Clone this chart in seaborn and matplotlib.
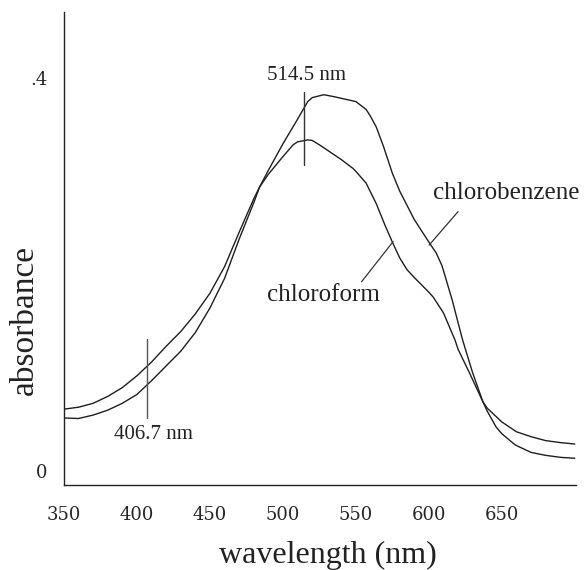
#!/usr/bin/env python3

# Absorbance spectra of the dye in two solvents.

import matplotlib

matplotlib.use("Agg")
import matplotlib.pylab as plt
import pandas
import seaborn as sns

# chloroform spectrum (nm, absorbance)
chloroform_nm = [350, 360, 370, 380, 390, 400, 410, 420, 430, 440, 450, 460, 470, 480,
                 484, 490, 500, 507, 510, 517, 520, 525, 530, 537, 540, 548, 550, 557,
                 560, 564, 570, 575, 580, 585, 590, 600, 603, 610, 612, 618, 620, 628,
                 630, 637, 640, 650, 660, 670, 680, 690, 700]
chloroform_abs = [0.063, 0.065, 0.069, 0.076, 0.085, 0.097, 0.111, 0.127, 0.142, 0.160,
                  0.181, 0.208, 0.243, 0.277, 0.289, 0.302, 0.320, 0.332, 0.335, 0.337,
                  0.3365, 0.332, 0.327, 0.320, 0.317, 0.308, 0.305, 0.293, 0.284, 0.272,
                  0.250, 0.233, 0.217, 0.205, 0.197, 0.182, 0.177, 0.161, 0.154, 0.133,
                  0.124, 0.0994, 0.093, 0.0706, 0.064, 0.050, 0.040, 0.035, 0.031, 0.029,
                  0.0275]

# chlorobenzene spectrum
chlorobenzene_nm = [350, 360, 370, 380, 390, 400, 410, 420, 430, 440, 450, 460, 470, 480,
                    484, 490, 500, 510, 517, 520, 528, 535, 541, 550, 557, 560, 564, 569,
                    575, 580, 590, 600, 605, 609, 612, 616, 623, 630, 637, 640, 646, 650,
                    658, 660, 670, 680, 690, 700]
chlorobenzene_abs = [0.054, 0.0535, 0.057, 0.062, 0.069, 0.078, 0.092, 0.107, 0.122, 0.141,
                     0.166, 0.196, 0.236, 0.273, 0.289, 0.306, 0.333, 0.358, 0.376, 0.380,
                     0.383, 0.381, 0.379, 0.376, 0.368, 0.361, 0.350, 0.330, 0.303, 0.285,
                     0.256, 0.233, 0.222, 0.209, 0.194, 0.174, 0.134, 0.100, 0.0706, 0.061,
                     0.045, 0.038, 0.028, 0.026, 0.019, 0.016, 0.014, 0.013]

# laser lines marked on the plot
laser_lines = [514.5, 406.7]

xticks = [350, 400, 450, 500, 550, 600, 650]
yticks = [0.0, 0.2, 0.4]
ytick_labels = ["0", "", ".4"]

df = pandas.concat(
    [
        pandas.DataFrame(
            {"wavelength": chloroform_nm, "absorbance": chloroform_abs, "solvent": "chloroform"}
        ),
        pandas.DataFrame(
            {"wavelength": chlorobenzene_nm, "absorbance": chlorobenzene_abs,
             "solvent": "chlorobenzene"}
        ),
    ],
    ignore_index=True,
)

sns.set_style("white")
plt.rcParams["font.family"] = ["Liberation Serif", "DejaVu Serif"]

fig = plt.figure(figsize=(5.84, 5.70), dpi=100)
ax = fig.add_axes([0.1096, 0.149, 0.8764, 0.830])

sns.lineplot(
    data=df,
    x="wavelength",
    y="absorbance",
    hue="solvent",
    palette={"chloroform": "#1e1e1e", "chlorobenzene": "#1e1e1e"},
    linewidth=1.0,
    legend=False,
    sort=False,
    estimator=None,
    ax=ax,
)

# laser line markers
ax.plot([laser_lines[0], laser_lines[0]], [0.311, 0.386], color="#333333", lw=1.0)
ax.text(laser_lines[0] + 1.5, 0.403, "514.5 nm", fontsize=15, ha="center", va="center",
        color="#222222")
ax.plot([laser_lines[1], laser_lines[1]], [0.054, 0.134], color="#555555", lw=1.0)
ax.text(411, 0.0376, "406.7 nm", fontsize=15, ha="center", va="center", color="#222222")

# solvent labels with leader lines
ax.text(652.7, 0.283, "chlorobenzene", fontsize=18, ha="center", va="center",
        color="#222222")
ax.plot([620, 600.2], [0.264, 0.230], color="#333333", lw=0.9)
ax.text(528, 0.179, "chloroform", fontsize=18, ha="center", va="center", color="#222222")
ax.plot([553.9, 575.5], [0.1927, 0.2335], color="#333333", lw=0.9)

ax.set_xlim(350, 700.7)
ax.set_ylim(-0.01425, 0.4672)
ax.set_xticks(xticks)
ax.set_yticks(yticks)
ax.set_yticklabels(ytick_labels)
ax.tick_params(axis="both", direction="out", length=6, width=1.0, color="#666666",
               labelsize=13, pad=6)
ax.tick_params(axis="x", pad=9)
for lab in ax.get_xticklabels() + ax.get_yticklabels():
    lab.set_family("DejaVu Serif")

sns.despine(ax=ax)
for side in ["left", "bottom"]:
    ax.spines[side].set_color("#222222")
    ax.spines[side].set_linewidth(1.0)

ax.set_xlabel("")
ax.set_ylabel("")
# axis titles placed as in the original
fig.text(327.5 / 584, 7.5 / 570, "wavelength (nm)", fontsize=23, ha="center",
         va="baseline", color="#222222")
fig.text(25 / 584, 1 - 320 / 570, "absorbance", fontsize=24, rotation=90, ha="center",
         va="center", color="#222222")

plt.savefig("out.png", dpi=100)
